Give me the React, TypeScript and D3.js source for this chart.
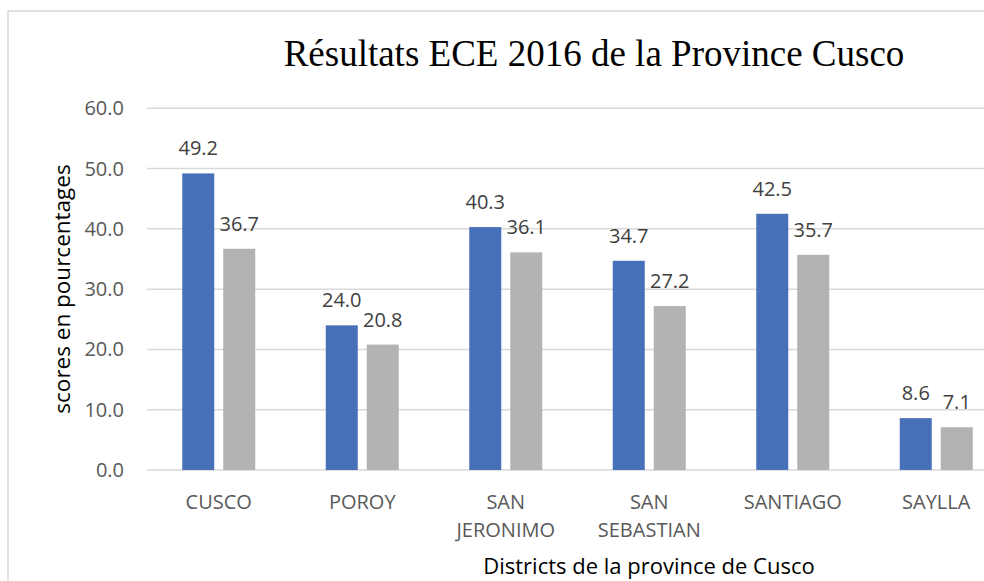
import React, { useEffect, useRef } from "react";
import * as d3 from "d3";

// district names (split on a line break like the original axis)
const districts = ["CUSCO", "POROY", "SAN JERONIMO", "SAN SEBASTIAN", "SANTIAGO", "SAYLLA"];
const serieA = [49.2, 24.0, 40.3, 34.7, 42.5, 8.6];
const serieB = [36.7, 20.8, 36.1, 27.2, 35.7, 7.1];
const yTicks = [0, 10, 20, 30, 40, 50, 60];

const App = () => {
  const svgRef = useRef<SVGSVGElement>(null);

  useEffect(() => {
    const width = 984;
    const height = 581;
    const font = "'Open Sans', sans-serif";

    const svg = d3.select(svgRef.current);
    svg.selectAll("*").remove();
    svg.attr("width", width).attr("height", height);

    // chart frame (right and bottom edges are outside the picture)
    svg
      .append("rect")
      .attr("x", 8)
      .attr("y", 11)
      .attr("width", 1100)
      .attr("height", 700)
      .attr("fill", "white")
      .attr("stroke", "#d9d9d9")
      .attr("stroke-width", 1.5);

    const x0 = d3.scaleBand().domain(districts).range([147, 147 + 143.5 * 6]).paddingInner(0).paddingOuter(0);
    const y = d3.scaleLinear().domain([0, 60]).range([470, 108.3]);

    // gridlines
    svg
      .selectAll("line.grid")
      .data(yTicks)
      .enter()
      .append("line")
      .attr("x1", 147)
      .attr("x2", width)
      .attr("y1", (d) => y(d))
      .attr("y2", (d) => y(d))
      .attr("stroke", "#d9d9d9")
      .attr("stroke-width", 1.5);

    svg
      .selectAll("text.tick")
      .data(yTicks)
      .enter()
      .append("text")
      .attr("x", 124)
      .attr("y", (d) => y(d))
      .attr("dy", "0.35em")
      .attr("text-anchor", "end")
      .style("font-family", font)
      .style("font-size", "20px")
      .style("fill", "#595959")
      .text((d) => d.toFixed(1));

    const barW = 32;
    const gap = 9;
    const series = [
      { values: serieA, color: "#4870b9", off: -gap / 2 - barW },
      { values: serieB, color: "#b3b3b3", off: gap / 2 },
    ];

    series.forEach((s) => {
      const g = svg.append("g");
      g.selectAll("rect")
        .data(s.values)
        .enter()
        .append("rect")
        .attr("x", (d, i) => x0(districts[i])! + x0.bandwidth() / 2 + s.off)
        .attr("y", (d) => y(d))
        .attr("width", barW)
        .attr("height", (d) => y(0) - y(d))
        .attr("fill", s.color);

      g.selectAll("text")
        .data(s.values)
        .enter()
        .append("text")
        .attr("x", (d, i) => x0(districts[i])! + x0.bandwidth() / 2 + s.off + barW / 2)
        .attr("y", (d) => y(d) - 18)
        .attr("text-anchor", "middle")
        .style("font-family", font)
        .style("font-size", "20px")
        .style("fill", "#404040")
        .text((d) => d.toFixed(1));
    });

    // category labels, wrapped on the space for two-word names
    const cat = svg
      .selectAll("text.cat")
      .data(districts)
      .enter()
      .append("text")
      .attr("text-anchor", "middle")
      .style("font-family", font)
      .style("font-size", "20px")
      .style("fill", "#595959");
    cat.each(function (d) {
      const cx = x0(d)! + x0.bandwidth() / 2;
      d.split(" ").forEach((w, k) => {
        d3.select(this)
          .append("tspan")
          .attr("x", cx)
          .attr("y", 509 + k * 28)
          .text(w);
      });
    });

    // titles
    svg
      .append("text")
      .attr("x", 594)
      .attr("y", 66)
      .attr("text-anchor", "middle")
      .style("font-family", "'Liberation Serif', 'Times New Roman', serif")
      .style("font-size", "37px")
      .style("fill", "#000")
      .text("Résultats ECE 2016 de la Province Cusco");

    svg
      .append("text")
      .attr("transform", "translate(62, 289) rotate(-90)")
      .attr("dy", "0.35em")
      .attr("text-anchor", "middle")
      .style("font-family", font)
      .style("font-size", "22.5px")
      .style("fill", "#000")
      .text("scores en pourcentages");

    svg
      .append("text")
      .attr("x", 649)
      .attr("y", 574)
      .attr("text-anchor", "middle")
      .style("font-family", font)
      .style("font-size", "22px")
      .style("fill", "#000")
      .text("Districts de la province de Cusco");
  }, []);

  return <svg ref={svgRef} style={{ position: "absolute", left: 0, top: 0 }} />;
};

export default App;
